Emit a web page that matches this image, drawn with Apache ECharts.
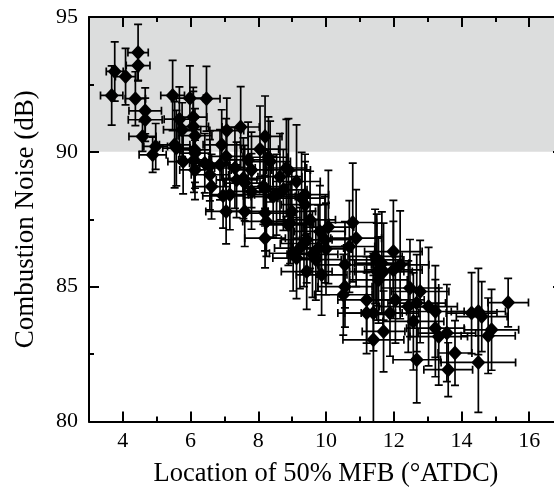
<!DOCTYPE html>
<html><head><meta charset="utf-8">
<script src="https://cdn.jsdelivr.net/npm/echarts@6/dist/echarts.min.js"></script>
<style>html,body{margin:0;padding:0;background:#fff;overflow:hidden}#c{width:554px;height:498px}</style>
</head><body><div id="c"></div>
<script>
// Location of 50% MFB (°ATDC)
const xValues = [4.45,4.45,3.76,4.08,3.67,4.37,4.66,4.66,4.58,4.97,4.88,5.47,5.98,6.47,5.67,6.08,5.75,6.08,6.13,5.53,5.58,6.13,6.42,7.07,7.48,8.20,6.92,6.13,8.05,7.05,7.70,8.30,5.78,6.57,6.87,6.13,7.31,7.80,8.83,8.64,6.57,6.62,7.36,7.56,8.20,8.74,9.13,6.96,7.16,7.80,8.54,7.05,7.60,8.20,8.24,8.94,8.35,8.89,8.15,8.44,9.28,9.38,8.99,8.89,9.53,10.07,9.82,8.20,9.43,9.97,10.79,10.89,10.69,9.03,9.23,9.77,9.13,9.43,9.87,10.56,11.45,10.56,11.50,10.51,11.20,11.20,11.40,11.40,11.70,11.50,11.65,11.99,11.55,11.70,11.99,12.19,12.05,11.89,12.43,12.48,12.78,12.68,13.03,13.23,12.58,13.23,13.33,13.57,12.68,13.81,13.61,14.30,14.50,14.60,14.89,14.79,15.38,14.50,6.10,9.60,9.70,9.35,10.00,7.60,9.38];
// Combustion Noise (dB)
const yValues = [93.68,93.20,92.98,92.79,92.09,91.97,91.52,91.19,90.57,90.20,89.89,92.09,91.99,91.97,91.21,91.29,90.82,90.94,90.60,90.26,90.14,90.07,89.58,90.79,90.92,90.57,90.26,89.95,90.10,89.83,89.70,89.80,89.64,89.48,89.52,89.33,89.40,89.33,89.40,89.08,89.15,88.71,88.96,89.02,88.65,88.59,88.90,88.37,88.41,88.53,88.41,87.79,87.79,87.73,87.42,87.36,89.64,89.33,88.71,88.34,88.28,88.04,87.79,87.29,87.48,87.21,87.05,86.80,86.74,86.74,87.38,86.80,86.49,86.24,86.43,86.43,86.06,85.56,85.44,85.81,86.12,85.00,85.56,84.70,84.51,84.02,84.02,83.03,83.34,85.99,85.87,86.30,85.25,85.56,85.62,85.81,84.51,84.02,84.26,84.95,84.82,84.39,84.26,84.08,83.71,83.46,83.15,83.28,82.29,82.54,81.92,84.02,84.08,83.89,83.40,83.18,84.41,82.19,89.70,86.20,86.00,86.60,86.40,88.84,88.41];
const xErrors = [0.30,0.35,0.25,0.30,0.33,0.30,0.48,0.50,0.40,0.35,0.40,0.35,0.40,0.40,0.45,0.40,0.55,0.45,0.50,0.45,0.40,0.45,0.45,0.50,0.55,0.50,0.55,0.45,0.55,0.50,0.60,0.55,0.45,0.55,0.60,0.45,0.60,0.60,0.60,0.65,0.55,0.55,0.60,0.60,0.65,0.70,0.70,0.60,0.55,0.65,0.65,0.60,0.60,0.65,0.70,0.70,0.60,0.65,0.60,0.65,0.70,0.70,0.70,0.70,0.75,0.75,0.75,0.60,0.75,0.75,0.70,0.75,0.75,0.70,0.75,0.75,0.70,0.75,0.75,0.80,0.80,0.80,0.80,0.85,0.85,0.85,0.85,0.90,0.63,0.80,0.80,0.85,0.85,0.85,0.85,0.85,0.85,0.85,0.85,0.85,0.85,0.85,0.85,0.85,0.90,0.85,0.85,0.85,0.70,0.50,0.72,0.75,0.80,0.75,0.80,0.80,0.60,1.10,0.45,0.75,0.75,0.70,0.75,0.60,0.70];
const yErrors = [1.05,0.55,1.10,1.05,1.10,1.00,0.85,0.80,0.55,0.85,0.65,1.30,1.20,1.20,1.20,1.10,1.00,1.30,1.00,1.60,1.40,1.20,1.10,1.20,1.50,1.50,1.30,1.30,1.60,1.40,1.40,1.50,1.20,1.30,1.30,1.10,1.50,1.40,1.80,1.60,1.30,1.20,1.40,1.50,1.40,1.50,2.10,1.20,1.30,1.40,1.50,1.20,1.30,1.40,1.30,1.50,1.50,1.90,1.40,1.50,1.70,1.60,1.50,1.50,1.80,2.10,1.70,1.10,1.60,1.60,2.20,1.80,1.70,1.40,1.50,1.60,1.50,1.40,1.50,1.60,1.75,1.50,1.80,1.50,1.60,1.50,1.40,3.20,1.50,1.70,1.90,1.90,1.60,1.80,1.80,2.00,1.60,1.60,1.70,1.80,1.90,1.80,2.20,1.70,1.80,1.80,1.80,1.80,1.60,1.20,1.00,1.50,1.60,1.30,1.50,1.40,0.90,1.85,1.20,1.60,1.50,1.60,1.70,1.40,1.50];
const xTickLabels = [4,6,8,10,12,14,16];
const xMinorTicks = [5,7,9,11,13,15];
const yTickLabels = [80,85,90,95];
const yMinorTicks = [82.5,87.5,92.5];
const bandRange = [90,95];

const FONT = '"Liberation Serif","Times New Roman",serif';
const points = xValues.map((x,i)=>[x,yValues[i],xErrors[i],yErrors[i]]);

const chart = echarts.init(document.getElementById('c'), null, {renderer:'canvas'});

const lineStyle = {color:'#000', width:2};
function xAx(pos, ticks, len, showLine, labels, extra){
  return Object.assign({
    type:'value', min:3, max:17, position:pos, z:10,
    axisLine:{show:showLine, onZero:false, lineStyle},
    axisTick:{show:true, inside:true, length:len, customValues:ticks, lineStyle},
    axisLabel:labels ? {show:true, customValues:ticks, color:'#000', fontFamily:FONT, fontSize:22, margin:9} : {show:false},
    splitLine:{show:false}
  }, extra||{});
}
function yAx(pos, ticks, len, showLine, labels, extra){
  return Object.assign({
    type:'value', min:80, max:95, position:pos, z:10,
    axisLine:{show:showLine, onZero:false, lineStyle},
    axisTick:{show:true, inside:true, length:len, customValues:ticks, lineStyle},
    axisLabel:labels ? {show:true, customValues:ticks, color:'#000', fontFamily:FONT, fontSize:22, margin:11} : {show:false},
    splitLine:{show:false}
  }, extra||{});
}

function renderItem(params, api){
  const x = api.value(0), y = api.value(1), xe = api.value(2), ye = api.value(3);
  const l = api.coord([x-xe,y]), r = api.coord([x+xe,y]);
  const t = api.coord([x,y+ye]), b = api.coord([x,y-ye]);
  const cap = 4;
  const st = {stroke:'#000', lineWidth:1.7};
  const ln = (x1,y1,x2,y2)=>({type:'line', shape:{x1,y1,x2,y2}, style:st});
  return {type:'group', children:[
    ln(l[0],l[1],r[0],r[1]),
    ln(l[0],l[1]-cap,l[0],l[1]+cap),
    ln(r[0],r[1]-cap,r[0],r[1]+cap),
    ln(t[0],t[1],b[0],b[1]),
    ln(t[0]-cap,t[1],t[0]+cap,t[1]),
    ln(b[0]-cap,b[1],b[0]+cap,b[1])
  ]};
}

chart.setOption({
  animation:false,
  backgroundColor:'#fff',
  grid:{left:89, top:17, width:474, height:404.5, containLabel:false, outerBoundsMode:'none'},
  xAxis:[
    xAx('bottom', xTickLabels, 10, true, true, {
      name:'Location of 50% MFB (°ATDC)', nameLocation:'middle', nameGap:39,
      nameTextStyle:{color:'#000', fontFamily:FONT, fontSize:26.5}
    }),
    xAx('bottom', xMinorTicks, 5, false, false),
    xAx('top', xTickLabels, 10, true, false),
    xAx('top', xMinorTicks, 5, false, false)
  ],
  yAxis:[
    yAx('left', yTickLabels, 10, true, true, {
      name:'Combustion Noise (dB)', nameLocation:'middle', nameGap:50,
      nameTextStyle:{color:'#000', fontFamily:FONT, fontSize:27}
    }),
    yAx('left', yMinorTicks, 5, false, false),
    yAx('right', yTickLabels, 10, true, false)
  ],
  series:[
    {
      type:'scatter', data:[], z:1, silent:true,
      markArea:{silent:true, itemStyle:{color:'#dcdddd'},
        data:[[{yAxis:bandRange[0]},{yAxis:bandRange[1]}]]}
    },
    {
      type:'custom', renderItem, data:points, z:2, clip:true,
      encode:{x:0, y:1}
    },
    {
      type:'scatter', data:points.map(p=>[p[0],p[1]]), z:3,
      symbol:'diamond', symbolSize:[14,15],
      itemStyle:{color:'#000', opacity:1}
    }
  ]
});
</script>
</body></html>
